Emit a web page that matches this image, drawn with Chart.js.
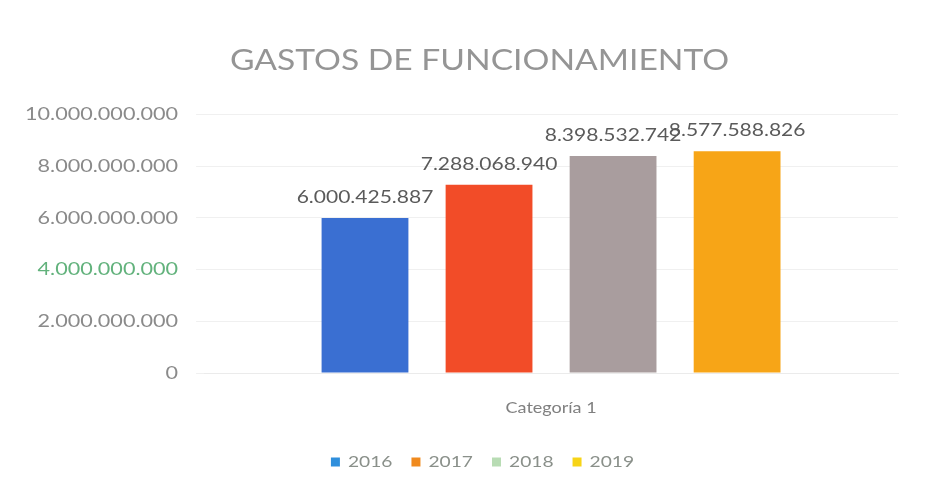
<!DOCTYPE html>
<html>
<head>
<meta charset="utf-8">
<script src="https://cdn.jsdelivr.net/npm/chart.js@4/dist/chart.umd.min.js"></script>
<style>
  html, body { margin: 0; padding: 0; background: #ffffff; }
  #wrap { width: 932px; height: 489px; }
</style>
</head>
<body>
<div id="wrap"><canvas id="chart"></canvas></div>
<script>
// Gastos de funcionamiento por año (una sola categoría)
const categories = ["Categoría 1"];
const years = ["2016", "2017", "2018", "2019"];
const values2016 = [6000425887];
const values2017 = [7288068940];
const values2018 = [8398532742];
const values2019 = [8577588826];
const yTicks = [0, 2000000000, 4000000000, 6000000000, 8000000000, 10000000000];

const barColors = ["#3a6fd2", "#f24c28", "#a99d9e", "#f7a517"];
const legendColors = ["#2f8fdc", "#f08a1e", "#b8dcb4", "#f7d417"];
const FONT = "Lato, 'Open Sans', sans-serif";
const TEXT_STRETCH = 1.2; // el original usa letras más anchas (Calibri escaneado)
const TITLE_SHIFT = 27;   // en el original título y leyenda no están centrados en el lienzo
const LEGEND_SHIFT = 30;

function fmt(n) {
  return String(n).replace(/\B(?=(\d{3})+(?!\d))/g, ".");
}

const canvas = document.getElementById("chart");
const ctx = canvas.getContext("2d");

// estirar el texto en horizontal, tanto al medir como al dibujar
const rawFill = ctx.fillText.bind(ctx);
const rawMeasure = ctx.measureText.bind(ctx);
ctx.fillText = function (text, x, y, maxWidth) {
  this.save();
  this.translate(x, y);
  this.scale(TEXT_STRETCH, 1);
  if (maxWidth === undefined) rawFill(text, 0, 0);
  else rawFill(text, 0, 0, maxWidth / TEXT_STRETCH);
  this.restore();
};
ctx.measureText = function (text) {
  const m = rawMeasure(text);
  return {
    width: m.width * TEXT_STRETCH,
    actualBoundingBoxAscent: m.actualBoundingBoxAscent,
    actualBoundingBoxDescent: m.actualBoundingBoxDescent,
    actualBoundingBoxLeft: m.actualBoundingBoxLeft * TEXT_STRETCH,
    actualBoundingBoxRight: m.actualBoundingBoxRight * TEXT_STRETCH,
  };
};

function shiftBlock(chart, block, dx) {
  if (!block) return;
  const draw = block.draw.bind(block);
  block.draw = function (area) {
    chart.ctx.save();
    chart.ctx.translate(dx, 0);
    draw(area);
    chart.ctx.restore();
  };
}

// mover título y leyenda un poco a la derecha
const shiftBlocks = {
  id: "shiftBlocks",
  afterInit(chart) {
    shiftBlock(chart, chart.titleBlock, TITLE_SHIFT);
    shiftBlock(chart, chart.legend, LEGEND_SHIFT);
  },
};

// etiquetas de valor encima de cada barra
const valueLabels = {
  id: "valueLabels",
  afterDatasetsDraw(chart) {
    const c = chart.ctx;
    c.save();
    c.font = "17.5px " + FONT;
    c.fillStyle = "#5a5a5a";
    c.textAlign = "center";
    c.textBaseline = "bottom";
    chart.data.datasets.forEach((ds, i) => {
      chart.getDatasetMeta(i).data.forEach((bar, j) => {
        c.fillText(fmt(ds.data[j]), bar.x, bar.y - 12);
      });
    });
    c.restore();
  },
};

const seriesValues = [values2016, values2017, values2018, values2019];

new Chart(ctx, {
  type: "bar",
  data: {
    labels: categories,
    datasets: years.map((y, i) => ({
      label: y,
      data: seriesValues[i],
      backgroundColor: barColors[i],
      borderWidth: 0,
    })),
  },
  options: {
    responsive: true,
    maintainAspectRatio: false,
    animation: false,
    devicePixelRatio: 1,
    categoryPercentage: 0.715,
    barPercentage: 0.7,
    layout: { padding: { left: 7, right: 34, top: 44, bottom: 9 } },
    plugins: {
      title: {
        display: true,
        text: "GASTOS DE FUNCIONAMIENTO",
        color: "#959595",
        font: { family: FONT, size: 28, weight: "normal" },
        padding: { top: 0, bottom: 37 },
      },
      legend: {
        position: "bottom",
        labels: {
          color: "#8a908a",
          font: { family: FONT, size: 16 },
          boxWidth: 9,
          boxHeight: 9,
          padding: 19,
          generateLabels: (chart) =>
            chart.data.datasets.map((ds, i) => ({
              text: ds.label,
              fillStyle: legendColors[i],
              strokeStyle: legendColors[i],
              lineWidth: 0,
              datasetIndex: i,
              fontColor: "#8a908a",
            })),
        },
      },
      tooltip: { enabled: false },
    },
    scales: {
      x: {
        grid: { display: false },
        border: { color: "#ebebeb" },
        ticks: { color: "#808080", font: { family: FONT, size: 15 }, padding: 18 },
      },
      y: {
        min: 0,
        max: 10000000000,
        afterBuildTicks: (axis) => {
          axis.ticks = yTicks.map((v) => ({ value: v }));
        },
        grid: { color: "#f0f0f0" },
        border: { display: false },
        ticks: {
          color: (c) => (c.tick && c.tick.value === 4000000000 ? "#62b27c" : "#8a8a8a"),
          font: { family: FONT, size: 18 },
          padding: 18,
          callback: (v) => fmt(v),
        },
      },
    },
  },
  plugins: [shiftBlocks, valueLabels],
});
</script>
</body>
</html>
